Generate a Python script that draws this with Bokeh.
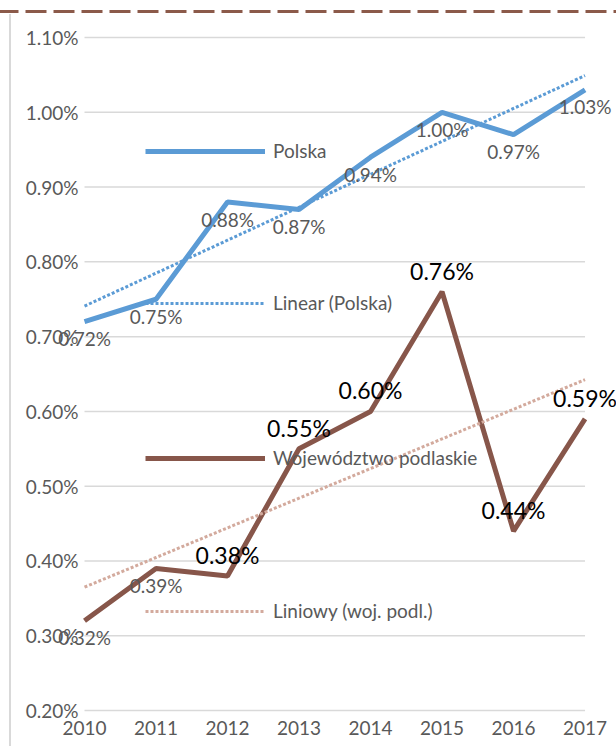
import numpy as np
from bokeh.plotting import figure
from bokeh.models import Range1d, Legend, LegendItem
from bokeh.core.properties import value
from bokeh.embed import file_html
from bokeh.resources import INLINE

# ---- data ----
years = [2010, 2011, 2012, 2013, 2014, 2015, 2016, 2017]
polska = [0.72, 0.75, 0.88, 0.87, 0.94, 1.00, 0.97, 1.03]
podlaskie = [0.32, 0.39, 0.38, 0.55, 0.60, 0.76, 0.44, 0.59]
y_ticks = [0.2, 0.3, 0.4, 0.5, 0.6, 0.7, 0.8, 0.9, 1.0, 1.1]
x_tick_labels = ["2010", "2011", "2012", "2013", "2014", "2015", "2016", "2017"]
series_names = ["Polska", "Linear (Polska)", "Województwo podlaskie", "Liniowy (woj. podl.)"]

FONT = "Lato"
GRAY = "#595959"
BLUE = "#5B9BD5"
BROWN = "#87564A"
BROWN_LIGHT = "#D3AA9D"


def trend(xs, ys):
    a, b = np.polyfit(xs, ys, 1)
    return [a * x + b for x in xs]


def pct(vals):
    return [f"{v:.2f}%" for v in vals]


# plot frame fills the whole canvas so that labels near the edges are not clipped
p = figure(width=616, height=746, output_backend="svg", toolbar_location=None,
           x_range=Range1d(2008.825, 2017.44), y_range=Range1d(0.1519, 1.1495),
           min_border=0)
p.axis.visible = False
p.grid.visible = False
p.outline_line_color = None
p.background_fill_color = None
p.border_fill_color = None
p.styles = {
    "background-color": "white",
    "background-image": ("linear-gradient(to right, #8B5A4A 0px, #8B5A4A 21.5px, transparent 21.5px), "
                         "linear-gradient(#D9D9D9, #D9D9D9)"),
    "background-size": "28px 3px, 2px 100%",
    "background-position": "25.5px 10px, 9px 14px",
    "background-repeat": "repeat-x, no-repeat",
}

# horizontal grid lines and axis labels
p.segment(x0=years[0], x1=years[-1], y0=y_ticks, y1=y_ticks, line_color="#D9D9D9", line_width=1.5)
p.text(x=[years[0]] * len(y_ticks), y=y_ticks, text=pct(y_ticks), x_offset=-6,
       text_align="right", text_baseline="middle", text_font=value(FONT),
       text_font_size="19px", text_color=GRAY)
p.text(x=years, y=[y_ticks[0]] * len(years), text=x_tick_labels, y_offset=17,
       text_align="center", text_baseline="middle", text_font=value(FONT),
       text_font_size="19px", text_color=GRAY)

# series
r_pl = p.line(years, polska, line_color=BLUE, line_width=5)
r_pl_t = p.line(years, trend(years, polska), line_color=BLUE, line_width=3, line_dash="3 2")
r_pd = p.line(years, podlaskie, line_color=BROWN, line_width=5)
r_pd_t = p.line(years, trend(years, podlaskie), line_color=BROWN_LIGHT, line_width=3, line_dash="3 2")

# data labels
p.text(x=years, y=polska, text=pct(polska), y_offset=17,
       text_align="center", text_baseline="middle", text_font=value(FONT),
       text_font_size="19px", text_color=GRAY)
p.text(x=years[:2], y=podlaskie[:2], text=pct(podlaskie[:2]), y_offset=17,
       text_align="center", text_baseline="middle", text_font=value(FONT),
       text_font_size="19px", text_color=GRAY)
p.text(x=years[2:], y=podlaskie[2:], text=pct(podlaskie[2:]), y_offset=-21,
       text_align="center", text_baseline="middle", text_font=value(FONT),
       text_font_size="23px", text_color="black")

# scattered legend entries
positions = [(145, 584), (145, 432), (145, 277), (145, 124)]
for name, rend, loc in zip(series_names, [r_pl, r_pl_t, r_pd, r_pd_t], positions):
    lg = Legend(items=[LegendItem(label=name, renderers=[rend])], location=loc,
                glyph_width=120, glyph_height=20, label_standoff=8, padding=0, margin=0,
                border_line_color=None, background_fill_alpha=0,
                label_text_font=FONT, label_text_font_size="19px", label_text_color=GRAY)
    p.add_layout(lg)

open("out.html", "w").write(file_html(p, INLINE))
